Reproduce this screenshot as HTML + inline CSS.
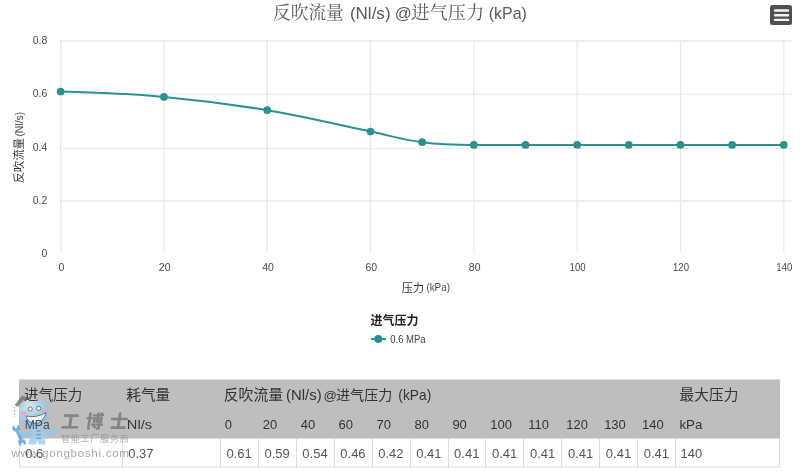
<!DOCTYPE html>
<html lang="zh-CN"><head><meta charset="utf-8"><title>反吹流量 (Nl/s) @进气压力 (kPa)</title>
<style>
html,body{margin:0;padding:0;background:#fff}
body{width:800px;height:474px;overflow:hidden}
svg{display:block}
text{font-family:"Liberation Sans","Noto Sans CJK SC",sans-serif;white-space:pre}
.l{font-family:"Liberation Sans","Noto Sans CJK SC",sans-serif}
.s{font-family:"Liberation Sans","Noto Sans CJK SC",sans-serif}
.sb{font-family:"Liberation Sans","Noto Sans CJK SC",sans-serif;font-weight:bold}
.r{font-family:"Liberation Serif","Noto Serif CJK SC",serif}
.kb{font-family:"Liberation Sans","Noto Sans CJK SC",sans-serif;font-weight:900}
</style></head><body>
<svg width="800" height="474" viewBox="0 0 800 474">
<g stroke="#e6e6e6" stroke-width="1.1" fill="none"><path d="M60 40.90H791.8"/><path d="M60 94.25H791.8"/><path d="M60 148.25H791.8"/><path d="M60 200.90H791.8"/></g><g stroke="#e9e9e9" stroke-width="1.3" fill="none"><path d="M60.60 40.4V252.8"/><path d="M163.91 40.4V252.8"/><path d="M267.23 40.4V252.8"/><path d="M370.54 40.4V252.8"/><path d="M473.86 40.4V252.8"/><path d="M577.17 40.4V252.8"/><path d="M680.49 40.4V252.8"/><path d="M783.80 40.4V252.8"/></g>
<g fill="#484856"><text class="l" x="47.4" y="44.0" font-size="10.5" text-anchor="end">0.8</text><text class="l" x="47.4" y="97.3" font-size="10.5" text-anchor="end">0.6</text><text class="l" x="47.4" y="151.1" font-size="10.5" text-anchor="end">0.4</text><text class="l" x="47.4" y="204.0" font-size="10.5" text-anchor="end">0.2</text><text class="l" x="47.4" y="256.5" font-size="10.5" text-anchor="end">0</text><text class="l" x="61.4" y="271" font-size="10.5" text-anchor="middle">0</text><text class="l" x="164.7" y="271" font-size="10.5" text-anchor="middle">20</text><text class="l" x="268.0" y="271" font-size="10.5" text-anchor="middle">40</text><text class="l" x="371.3" y="271" font-size="10.5" text-anchor="middle">60</text><text class="l" x="474.7" y="271" font-size="10.5" text-anchor="middle">80</text><text class="l" x="577.7" y="271" font-size="10.5" text-anchor="middle" textLength="16" lengthAdjust="spacingAndGlyphs">100</text><text class="l" x="681.0" y="271" font-size="10.5" text-anchor="middle" textLength="16" lengthAdjust="spacingAndGlyphs">120</text><text class="l" x="784.3" y="271" font-size="10.5" text-anchor="middle" textLength="16" lengthAdjust="spacingAndGlyphs">140</text></g>
<text class="r" x="273.09" y="18.60" font-size="17.67" textLength="70.69" lengthAdjust="spacingAndGlyphs" fill="#585858">反吹流量</text><text class="l" x="349.88" y="18.60" font-size="17.00" textLength="40.70" lengthAdjust="spacingAndGlyphs" fill="#585858">(Nl/s)</text><text class="l" x="394.65" y="18.60" font-size="16.50" textLength="17.08" lengthAdjust="spacingAndGlyphs" fill="#585858">@</text><text class="r" x="411.25" y="18.60" font-size="18.24" textLength="72.97" lengthAdjust="spacingAndGlyphs" fill="#585858">进气压力</text><text class="l" x="488.74" y="18.60" font-size="17.00" textLength="38.08" lengthAdjust="spacingAndGlyphs" fill="#585858">(kPa)</text>
<g transform="translate(23.3,183.2) rotate(-90)"><text class="s" x="0" y="0" font-size="11.3" fill="#333">反吹流量</text><text class="l" x="46.6" y="-0.8" font-size="10.4" fill="#4a4458">(Nl/s)</text></g>
<text class="s" x="401.7" y="292" font-size="11.2" fill="#333">压力</text><text class="l" x="426.41" y="291.00" font-size="10.20" textLength="23.52" lengthAdjust="spacingAndGlyphs" fill="#4a4458">(kPa)</text>
<path d="M60.60 91.56C60.60 91.56 122.59 93.16 163.91 96.89C205.24 100.62 225.90 103.29 267.23 110.22C308.55 117.15 329.22 123.02 370.54 131.55C391.21 135.82 401.54 139.55 422.20 142.22C442.86 144.88 453.19 144.88 473.86 144.88C494.52 144.88 504.85 144.88 525.51 144.88C546.18 144.88 556.51 144.88 577.17 144.88C597.83 144.88 608.17 144.88 628.83 144.88C649.49 144.88 659.82 144.88 680.49 144.88C701.15 144.88 711.48 144.88 732.14 144.88C752.81 144.88 783.80 144.88 783.80 144.88" fill="none" stroke="#2b908f" stroke-width="2" stroke-linecap="round" stroke-linejoin="round"/>
<g fill="#2b908f"><circle cx="60.60" cy="91.56" r="3.85"/><circle cx="163.91" cy="96.89" r="3.85"/><circle cx="267.23" cy="110.22" r="3.85"/><circle cx="370.54" cy="131.55" r="3.85"/><circle cx="422.20" cy="142.22" r="3.85"/><circle cx="473.86" cy="144.88" r="3.85"/><circle cx="525.51" cy="144.88" r="3.85"/><circle cx="577.17" cy="144.88" r="3.85"/><circle cx="628.83" cy="144.88" r="3.85"/><circle cx="680.49" cy="144.88" r="3.85"/><circle cx="732.14" cy="144.88" r="3.85"/><circle cx="783.80" cy="144.88" r="3.85"/></g>
<text class="sb" x="370.6" y="324.8" font-size="12" fill="#222">进气压力</text>
<path d="M371 339H386" stroke="#2b908f" stroke-width="2" fill="none"/><circle cx="378.3" cy="339" r="4" fill="#2b908f"/>
<text class="l" x="390.22" y="342.60" font-size="10.30" textLength="35.37" lengthAdjust="spacingAndGlyphs" fill="#3d3d4d">0.6 MPa</text>
<rect x="770" y="5" width="22" height="20" rx="2.5" fill="#505050"/><path d="M775 10.5H788M775 15.2H788M775 19.9H788" stroke="#f4f4f4" stroke-width="2.4" stroke-linecap="round"/>
<rect x="19.0" y="379.5" width="761.0" height="59.0" fill="#bebebe"/><rect x="19.5" y="438.5" width="760.0" height="28.600000000000023" fill="#fff" stroke="#dcdcdc" stroke-width="1"/><g stroke="#dcdcdc" stroke-width="1" shape-rendering="crispEdges"><path d="M122.7 438.5V467.6"/><path d="M220.4 438.5V467.6"/><path d="M258.3 438.5V467.6"/><path d="M296.3 438.5V467.6"/><path d="M334.2 438.5V467.6"/><path d="M372.1 438.5V467.6"/><path d="M410.1 438.5V467.6"/><path d="M448.0 438.5V467.6"/><path d="M485.9 438.5V467.6"/><path d="M523.9 438.5V467.6"/><path d="M561.8 438.5V467.6"/><path d="M599.7 438.5V467.6"/><path d="M637.7 438.5V467.6"/><path d="M675.6 438.5V467.6"/></g>
<defs><radialGradient id="hg" cx="0.36" cy="0.28" r="0.8"><stop offset="0" stop-color="#e2f1fa"/><stop offset=".45" stop-color="#a9d3ee"/><stop offset="1" stop-color="#86bde4"/></radialGradient></defs>
<g opacity=".82">
<path d="M14.6 405L21.8 395.8L36 399.6L35 403L23.2 400.2L17.6 407Z" fill="#767676"/>
<path d="M14.6 407v10" stroke="#9a9a9a" stroke-width="1.3" stroke-dasharray="1.6 1.6"/>
<ellipse cx="33.9" cy="412.3" rx="15" ry="14" fill="url(#hg)"/>
<circle cx="30.2" cy="409" r="2.1" fill="#fff" stroke="#4c5a66" stroke-width=".9"/><circle cx="38.6" cy="408.4" r="2.1" fill="#fff" stroke="#4c5a66" stroke-width=".9"/>
<ellipse cx="24" cy="413.4" rx="2.8" ry="1.9" fill="#f4a3ba"/><ellipse cx="44.4" cy="411" rx="2.8" ry="1.9" fill="#f4a3ba"/>
<path d="M26 416Q36 418.4 46 412.6Q43.4 424.2 33.5 423.2Q27.8 422 26 416Z" fill="#fff" stroke="#4c5a66" stroke-width=".9"/>
<path d="M31.5 425.5H43.5L45.5 444.5H38.2L37.6 440L36.4 444.5H28.6Z" fill="#a3cfeb"/>
<path d="M43 428.5L52.5 431L54.6 426L58 427.6L55.6 436L44 435.2Z" fill="#96c7e7"/>
<path d="M31.5 428.5L22 433.5L20 431L17.5 433L20.5 439.6L32 435.4Z" fill="#96c7e7"/>
<path d="M12 427.2l2.2 -1.6l1.2 2.6l2 -1.2l-0.6 -2.4l2.4 1.2l1 3.8l-1.6 1.6l3.8 8l2.4 0.6l1.4 3.6l-2 1.6l-1.2 -2.6l-2 1.2l0.8 2.4l-2.6 -1l-1.2 -3.8l1.4 -1.6l-3.8 -8l-2.4 -0.4z" fill="#5e9fdb"/>
<path d="M36.5 431h4.4M36.5 434.6h4.4M36.5 438.2h4.4" stroke="#5f8198" stroke-width="1"/>
</g>
<text class="s" x="24.12" y="399.50" font-size="14.57" textLength="58.27" lengthAdjust="spacingAndGlyphs" fill="#333">进气压力</text><text class="s" x="126.19" y="399.50" font-size="14.69" textLength="44.08" lengthAdjust="spacingAndGlyphs" fill="#333">耗气量</text><text class="s" x="223.78" y="399.50" font-size="14.85" textLength="59.38" lengthAdjust="spacingAndGlyphs" fill="#333">反吹流量</text><text class="l" x="286.11" y="400.20" font-size="14.20" textLength="35.53" lengthAdjust="spacingAndGlyphs" fill="#333">(Nl/s)</text><text class="l" x="323.45" y="400.20" font-size="13.50" textLength="13.38" lengthAdjust="spacingAndGlyphs" fill="#333">@</text><text class="s" x="335.94" y="399.50" font-size="14.10" textLength="56.40" lengthAdjust="spacingAndGlyphs" fill="#333">进气压力</text><text class="l" x="398.37" y="400.20" font-size="14.20" textLength="32.91" lengthAdjust="spacingAndGlyphs" fill="#333">(kPa)</text><text class="s" x="679.54" y="399.50" font-size="14.72" textLength="58.86" lengthAdjust="spacingAndGlyphs" fill="#333">最大压力</text><text class="l" x="24.73" y="428.80" font-size="13.20" textLength="24.99" lengthAdjust="spacingAndGlyphs" fill="#35506e">MPa</text><text class="l" x="126.83" y="428.80" font-size="13.20" textLength="25.22" lengthAdjust="spacingAndGlyphs" fill="#333">Nl/s</text><text class="l" x="679.43" y="428.80" font-size="13.20" textLength="23.01" lengthAdjust="spacingAndGlyphs" fill="#333">kPa</text><text class="l" x="224.80" y="428.8" font-size="13.0" fill="#333">0</text><text class="l" x="262.73" y="428.8" font-size="13.0" fill="#333">20</text><text class="l" x="300.67" y="428.8" font-size="13.0" fill="#333">40</text><text class="l" x="338.60" y="428.8" font-size="13.0" fill="#333">60</text><text class="l" x="376.53" y="428.8" font-size="13.0" fill="#333">70</text><text class="l" x="414.47" y="428.8" font-size="13.0" fill="#333">80</text><text class="l" x="452.40" y="428.8" font-size="13.0" fill="#333">90</text><text class="l" x="490.33" y="428.8" font-size="13.0" fill="#333">100</text><text class="l" x="528.27" y="428.8" font-size="13.0" fill="#333">110</text><text class="l" x="566.20" y="428.8" font-size="13.0" fill="#333">120</text><text class="l" x="604.13" y="428.8" font-size="13.0" fill="#333">130</text><text class="l" x="642.07" y="428.8" font-size="13.0" fill="#333">140</text><text class="l" x="25.28" y="458.30" font-size="13.00" fill="#555">0.6</text><text class="l" x="128.28" y="458.30" font-size="13.00" fill="#555">0.37</text><text class="l" x="226.50" y="458.3" font-size="13.0" fill="#555">0.61</text><text class="l" x="264.43" y="458.3" font-size="13.0" fill="#555">0.59</text><text class="l" x="302.37" y="458.3" font-size="13.0" fill="#555">0.54</text><text class="l" x="340.30" y="458.3" font-size="13.0" fill="#555">0.46</text><text class="l" x="378.23" y="458.3" font-size="13.0" fill="#555">0.42</text><text class="l" x="416.17" y="458.3" font-size="13.0" fill="#555">0.41</text><text class="l" x="454.10" y="458.3" font-size="13.0" fill="#555">0.41</text><text class="l" x="492.03" y="458.3" font-size="13.0" fill="#555">0.41</text><text class="l" x="529.97" y="458.3" font-size="13.0" fill="#555">0.41</text><text class="l" x="567.90" y="458.3" font-size="13.0" fill="#555">0.41</text><text class="l" x="605.83" y="458.3" font-size="13.0" fill="#555">0.41</text><text class="l" x="643.77" y="458.3" font-size="13.0" fill="#555">0.41</text><text class="l" x="680.62" y="458.30" font-size="13.00" fill="#555">140</text>
<text class="kb" transform="translate(60.6,427.7) skewX(-8)" font-size="18.2" letter-spacing="6" fill="#747474" fill-opacity=".78">工博士</text><text class="s" x="61" y="442" font-size="9.2" letter-spacing=".55" fill="#8c8c8c" fill-opacity=".7">智能工厂服务商</text><text class="l" x="11.5" y="457.2" font-size="11.6" textLength="117.5" lengthAdjust="spacing" fill="#7d7d7d" fill-opacity=".68">www.gongboshi.com</text>
</svg>
</body></html>
